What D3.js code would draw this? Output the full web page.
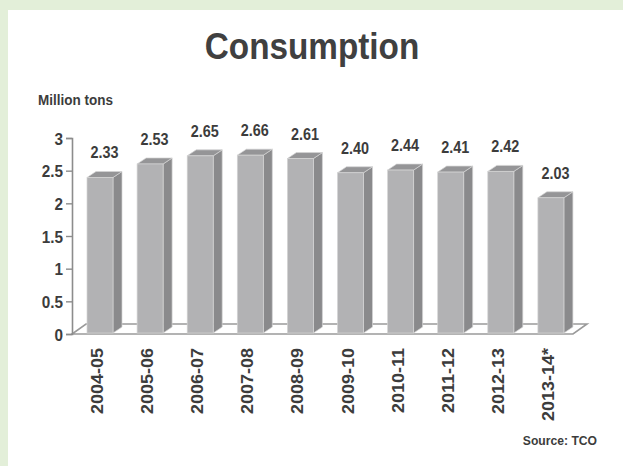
<!DOCTYPE html>
<html>
<head>
<meta charset="utf-8">
<script src="https://cdn.jsdelivr.net/npm/d3@7/dist/d3.min.js"></script>
<style>
  html, body { margin: 0; padding: 0; background: #e3efd9; }
  svg { display: block; }
  text { font-family: "Liberation Sans", Arial, sans-serif; font-weight: bold; fill: #3c3c3c; }
</style>
</head>
<body>
<svg id="chart" width="623" height="466"></svg>
<script>
// Tea consumption, million tons, by season
const seasons = ["2004-05", "2005-06", "2006-07", "2007-08", "2008-09",
                 "2009-10", "2010-11", "2011-12", "2012-13", "2013-14*"];
const consumption = [2.33, 2.53, 2.65, 2.66, 2.61, 2.40, 2.44, 2.41, 2.42, 2.03];
const valueLabels = ["2.33", "2.53", "2.65", "2.66", "2.61", "2.40", "2.44", "2.41", "2.42", "2.03"];
const yTicks = [0, 0.5, 1, 1.5, 2, 2.5, 3];
const yTickLabels = ["0", "0.5", "1", "1.5", "2", "2.5", "3"];

const svg = d3.select("#chart");
const SQ = 0.9; // narrow, condensed lettering

// white card on the green page
svg.append("rect").attr("x", 8).attr("y", 10).attr("width", 615).attr("height", 456).attr("fill", "#ffffff");

function label(parent, x, y, size, txt, anchor) {
  return parent.append("text")
    .attr("transform", `translate(${x},${y}) scale(${SQ},1)`)
    .attr("text-anchor", anchor || "start")
    .style("font-size", size + "px")
    .text(txt);
}

label(svg, 312, 59, 37, "Consumption", "middle").style("fill", "#404040");
label(svg, 38, 105, 15, "Million tons");

// geometry of the 3D plot area
const left = 72, right = 573, floorY = 334;
const depth = { dx: 14, dy: -10 };      // floor depth
const barDepth = { dx: 9, dy: -6 };     // column depth

const x = d3.scaleBand().domain(seasons).range([left, right]).padding(0);
const y = d3.scaleLinear().domain([0, 3]).range([floorY, 138]);
// column faces sit half-way into the floor, slightly enlarged by perspective
const yBar = d3.scaleLinear().domain([0, 3]).range([335, 335 - 3 * 67.6]);

// floor
const floor = d3.path();
floor.moveTo(left, floorY);
floor.lineTo(right, floorY);
floor.lineTo(right + depth.dx, floorY + depth.dy);
floor.lineTo(left + depth.dx, floorY + depth.dy);
floor.closePath();
svg.append("path").attr("d", floor.toString())
  .attr("fill", "#ffffff").attr("stroke", "#9a9a9a").attr("stroke-width", 1.6);

// y axis
const yAxis = d3.axisLeft(y).tickValues(yTicks)
  .tickFormat((d, i) => yTickLabels[i]).tickSize(6).tickPadding(4);
const ga = svg.append("g").attr("transform", `translate(${left},0)`).call(yAxis);
ga.select(".domain").attr("stroke", "#8c8c8c").attr("stroke-width", 1.6);
ga.selectAll(".tick line").attr("stroke", "#8c8c8c").attr("stroke-width", 1.4);
ga.selectAll(".tick text")
  .attr("x", null).attr("dy", null)
  .attr("transform", `translate(-9,6) scale(${SQ},1)`)
  .style("font-size", "17px").style("font-family", "Liberation Sans, Arial, sans-serif")
  .style("font-weight", "bold").attr("fill", "#3c3c3c");

// columns
const bw = 26, offset = 15, bottom = 333;
const bars = svg.append("g").selectAll("g").data(seasons).join("g");
bars.each(function (s, i) {
  const g = d3.select(this);
  const x0 = x(s) + offset, x1 = x0 + bw;
  const top = yBar(consumption[i]);
  const dx = barDepth.dx, dy = barDepth.dy;
  // side face
  g.append("path")
    .attr("d", `M${x1},${bottom} L${x1 + dx},${bottom + dy} L${x1 + dx},${top + dy} L${x1},${top} Z`)
    .attr("fill", "#8a8a8c").attr("stroke", "#d4d4d4").attr("stroke-width", 0.7);
  // top face
  g.append("path")
    .attr("d", `M${x0},${top} L${x0 + dx},${top + dy} L${x1 + dx},${top + dy} L${x1},${top} Z`)
    .attr("fill", "#959597").attr("stroke", "#d4d4d4").attr("stroke-width", 0.7);
  // front face
  g.append("rect").attr("x", x0).attr("y", top).attr("width", bw).attr("height", bottom - top)
    .attr("fill", "#b2b2b4").attr("stroke", "#d4d4d4").attr("stroke-width", 0.7);
  // value label
  label(g, x0 + (bw + dx) / 2, top + dy - 13, 16, valueLabels[i], "middle");
});

// category labels, rotated
svg.append("g").selectAll("text").data(seasons).join("text")
  .attr("transform", d => `translate(${x(d) + x.bandwidth() / 2 + 6},${348}) scale(${SQ},1) rotate(-90)`)
  .attr("text-anchor", "end")
  .style("font-size", "18px")
  .text(d => d);

label(svg, 597, 445, 13.5, "Source: TCO", "end");
</script>
</body>
</html>
